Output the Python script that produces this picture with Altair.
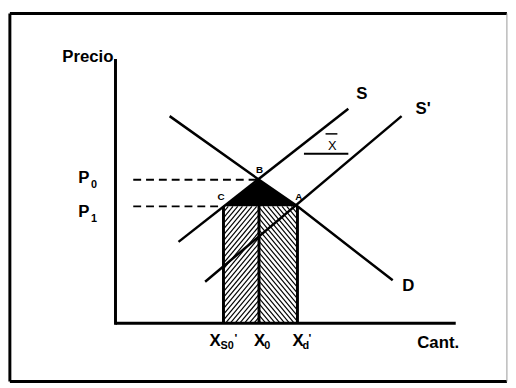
import altair as alt
import pandas as pd

# ---- diagram values (quantity q, price p; 1 unit ~ 3 px) ----
P0, P1 = 48.5, 39.5
XS0, X0, XD = 36.5, 48.5, 61.5
AXIS_TOP, AXIS_RIGHT = 89.3, 115.0

demand_q = [18.3, 48.5, 61.5, 93.7]
demand_p = [70.0, 48.5, 39.5, 14.5]
supply_q = [21.3, 78.7]
supply_p = [27.5, 72.5]
supply2_q = [30.3, 96.7]
supply2_p = [14.0, 70.0]

# frame of the figure
FRAME_Q = [-35.7, 132.3]
FRAME_P = [-19.7, 104.7]

# labels
big_text = ["S", "S'", "D"]
big_q = [83.3, 104.0, 99.0]
big_p = [77.3, 72.3, 12.7]
pt_text = ["B", "C", "A"]
pt_q = [48.7, 35.7, 62.0]
pt_p = [51.7, 42.7, 42.7]

# ---- canvas ----
W, H = 507, 377
PX = 3.0
x_dom = [(8 - 117) / PX, (8 + W - 117) / PX]
y_dom = [(325 - (8 + H)) / PX, (325 - 8) / PX]
xs = alt.Scale(domain=x_dom, nice=False, zero=False)
ys = alt.Scale(domain=y_dom, nice=False, zero=False)


def X(f):
    return alt.X(f, type="quantitative", scale=xs, axis=None)


def Y(f):
    return alt.Y(f, type="quantitative", scale=ys, axis=None)


def segs(rows):
    return pd.DataFrame(rows, columns=["q1", "p1", "q2", "p2"])


def rules(df, **kw):
    return alt.Chart(df).mark_rule(color="black", **kw).encode(
        x=X("q1"), y=Y("p1"), x2="q2", y2="p2")


# hatch lines clipped to rectangles (decoration)
def hatch(q0, q1, p0, p1, direction, step=1.6, k=1.2):
    out = []
    c = -300.0
    while c < 300:
        pts = []
        if direction > 0:  # p = k*q + c
            for q in (q0, q1):
                p = k * q + c
                if p0 <= p <= p1:
                    pts.append((q, p))
            for p in (p0, p1):
                q = (p - c) / k
                if q0 <= q <= q1:
                    pts.append((q, p))
        else:  # p = -k*q + c
            for q in (q0, q1):
                p = -k * q + c
                if p0 <= p <= p1:
                    pts.append((q, p))
            for p in (p0, p1):
                q = (c - p) / k
                if q0 <= q <= q1:
                    pts.append((q, p))
        if len(pts) >= 2:
            pts.sort()
            out.append((pts[0][0], pts[0][1], pts[-1][0], pts[-1][1]))
        c += step * k
    return out


hatch_rows = hatch(XS0, X0, 0, P1, 1) + hatch(X0, XD, 0, P1, -1)
layers = []
layers.append(rules(segs(hatch_rows), strokeWidth=1.2))

tri = pd.DataFrame({"q": [XS0, X0, XD], "p": [P1, P0, P1], "b": [P1, P1, P1]})
layers.append(alt.Chart(tri).mark_area(color="black", line=False).encode(
    x=X("q"), y=Y("p"), y2="b"))

# rectangle verticals
layers.append(rules(segs([(XS0, 0, XS0, P1), (X0, 0, X0, P0), (XD, 0, XD, P1)]), strokeWidth=3))
# axes
layers.append(rules(segs([(0, -0.5, 0, AXIS_TOP), (0, 0, AXIS_RIGHT, 0)]), strokeWidth=3))
# frame
layers.append(rules(segs([(FRAME_Q[0], FRAME_P[0], FRAME_Q[0], FRAME_P[1]),
                          (FRAME_Q[0], FRAME_P[1], FRAME_Q[1], FRAME_P[1]),
                          (FRAME_Q[0], FRAME_P[0], FRAME_Q[1], FRAME_P[0])]), strokeWidth=3))
layers.append(alt.Chart(segs([(FRAME_Q[1], FRAME_P[0], FRAME_Q[1], FRAME_P[1])])).mark_rule(
    color="#999999", strokeWidth=1).encode(x=X("q1"), y=Y("p1"), x2="q2", y2="p2"))
# dashed guides
layers.append(rules(segs([(6, P0, X0, P0), (6, P1, XS0, P1)]), strokeWidth=2, strokeDash=[8, 5]))
# curves
curves = pd.DataFrame({
    "q": demand_q + supply_q + supply2_q,
    "p": demand_p + supply_p + supply2_p,
    "s": ["D"] * len(demand_q) + ["S"] * len(supply_q) + ["S2"] * len(supply2_q),
    "o": list(range(len(demand_q))) + list(range(len(supply_q))) + list(range(len(supply2_q))),
})
layers.append(alt.Chart(curves).mark_line(color="black", strokeWidth=2.5).encode(
    x=X("q"), y=Y("p"), detail="s:N", order="o:Q"))
# X-bar marker
layers.append(rules(segs([(63.7, 57.3, 78.7, 57.3)]), strokeWidth=2))
layers.append(rules(segs([(71.0, 64.0, 75.0, 64.0)]), strokeWidth=1.5))


def texts(labels, qs, ps, size, align="center", weight="bold", baseline="middle"):
    df = pd.DataFrame({"t": labels, "q": qs, "p": ps})
    return alt.Chart(df).mark_text(font="Liberation Sans", fontWeight=weight, fontSize=size,
                                   align=align, baseline=baseline, color="black").encode(
        x=X("q"), y=Y("p"), text="t:N")


layers.append(texts(big_text, big_q, big_p, 17))
layers.append(texts(pt_text, pt_q, pt_p, 10))
layers.append(texts(["Precio"], [-0.7], [90.0], 17, align="right"))
layers.append(texts(["Cant."], [102.0], [-6.7], 17, align="left"))
# price labels
layers.append(texts(["P", "P"], [-10.7, -10.7], [(325 - 178) / PX, (325 - 212) / PX], 17))
layers.append(texts(["0", "1"], [-7.3, -7.3], [(325 - 185) / PX, (325 - 219) / PX], 11))
# quantity labels
layers.append(texts(["X", "X", "X"], [33.7, 48.7, 61.7], [-6.0, -6.0, -6.0], 17))
layers.append(texts(["S0", "0", "d"], [37.7, 51.3, 64.3], [-7.7, -7.7, -7.7], 11))
layers.append(texts(["'", "'"], [40.7, 65.7], [-5.0, -5.0], 12))
layers.append(texts(["X"], [73.3], [60.0], 13, weight="normal"))

chart = alt.layer(*layers).properties(
    width=W, height=H, padding=0, autosize=alt.AutoSizeParams(type="none")
).configure_view(stroke=None)

chart.save("out.html", embed_options={"renderer": "svg", "actions": False})
